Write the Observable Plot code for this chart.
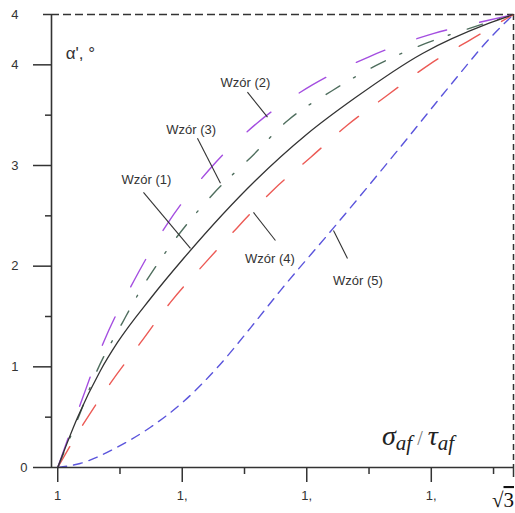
<!DOCTYPE html>
<html>
<head>
<meta charset="utf-8">
<script src="https://cdn.jsdelivr.net/npm/d3@7"></script>
<script src="https://cdn.jsdelivr.net/npm/@observablehq/plot@0.6"></script>
<style>
  html, body { margin: 0; padding: 0; background: #fff; overflow: hidden; }
</style>
</head>
<body>
<div id="chart"></div>
<script>
// ---- data ----
const SQRT3 = Math.sqrt(3);
// Wzór (1) – solid black
const wzor1 = [[1,0],[1.0318,0.497],[1.0687,0.964],[1.096,1.242],[1.149,1.679],[1.202,2.076],[1.3177,2.851],[1.3996,3.308],[1.4783,3.675],[1.5859,4.113],[1.6919,4.411],[SQRT3,4.5]];
// Wzór (2) – purple long dash
const wzor2 = [[1,0],[1.037,0.64],[1.074,1.25],[1.122,1.85],[1.176,2.42],[1.245,2.97],[1.32,3.42],[1.409,3.80],[1.50,4.08],[1.603,4.31],[1.69,4.44],[SQRT3,4.5]];
// Wzór (3) – grey-green dash-dot
const wzor3 = [[1,0],[1.032,0.48],[1.063,0.96],[1.104,1.44],[1.131,1.74],[1.16,2.02],[1.25,2.72],[1.31,3.08],[1.37,3.45],[1.44,3.74],[1.51,3.99],[1.59,4.21],[1.67,4.38],[SQRT3,4.5]];
// Wzór (4) – red dash
const wzor4 = [[1,0],[1.042,0.44],[1.085,0.84],[1.133,1.24],[1.181,1.64],[1.235,2.02],[1.288,2.38],[1.345,2.75],[1.406,3.08],[1.465,3.40],[1.53,3.70],[1.596,4.0],[1.666,4.26],[SQRT3,4.5]];
// Wzór (5) – blue short dash
const wzor5 = [[1,0],[1.036,0.04],[1.095,0.2],[1.149,0.40],[1.203,0.66],[1.256,0.99],[1.31,1.39],[1.358,1.76],[1.443,2.38],[1.546,3.15],[1.631,3.80],[1.695,4.27],[SQRT3,4.5]];

// axis ticks / labels
const xDomain = [0.99, SQRT3];
const yDomain = [0, 4.5];
const xMajorTicks = [1, 1.2, 1.4, 1.6];
const xMajorLabels = ["1", "1,", "1,", "1,"];
const xMinorTicks = [1.1, 1.3, 1.5, 1.7];
const yMajorTicks = [1, 2, 3, 4];
const yMajorLabels = ["1", "2", "3", "4"];
const yMinorTicks = [0.5, 1.5, 2.5, 3.5];
const yTopTick = [4.5];
const yTopLabel = ["4"];

// annotation labels
const labelText = ["Wzór (1)", "Wzór (2)", "Wzór (3)", "Wzór (4)", "Wzór (5)"];
const labelX = [1.1425, 1.3015, 1.2143, 1.3409, 1.4822];
const labelY = [2.853, 3.818, 3.350, 2.077, 1.858];
const leaderX1 = [1.1377, 1.3047, 1.2244, 1.3144, 1.4429];
const leaderY1 = [2.733, 3.728, 3.271, 2.534, 2.355];
const leaderX2 = [1.2132, 1.3369, 1.2614, 1.3497, 1.4654];
const leaderY2 = [2.176, 3.480, 2.823, 2.255, 2.077];

const labels = labelText.map((t, i) => ({t, x: labelX[i], y: labelY[i]}));
const leaders = labelText.map((t, i) => ({x1: leaderX1[i], y1: leaderY1[i], x2: leaderX2[i], y2: leaderY2[i]}));

const ink = "#333";
const lineOpts = (stroke, dash, w = 1.4) => ({x: d => d[0], y: d => d[1], stroke, strokeWidth: w, strokeDasharray: dash, curve: "monotone-x"});
const blank = () => "";

const chart = Plot.plot({
  width: 515,
  height: 513,
  marginLeft: 51,
  marginRight: 2,
  marginTop: 14,
  marginBottom: 46,
  style: {fontFamily: "'Liberation Sans', Arial, sans-serif", fontSize: "13px", color: ink, background: "#fff"},
  x: {domain: xDomain},
  y: {domain: yDomain},
  marks: [
    // frame
    Plot.ruleY([yDomain[1]], {stroke: ink, strokeWidth: 1.5, strokeDasharray: "8,4"}),
    Plot.ruleX([xDomain[1]], {stroke: ink, strokeWidth: 1.5, strokeDasharray: "6,4"}),
    // curves
    Plot.line(wzor5, lineOpts("#5b55dc", "9,7")),
    Plot.line(wzor4, lineOpts("#ec5a55", "24,25")),
    Plot.line(wzor3, lineOpts("#4f6e5e", "16,16,2,18")),
    Plot.line(wzor2, lineOpts("#a44ee0", "31,34")),
    Plot.line(wzor1, lineOpts("#333", null, 1.3)),
    // axes lines
    Plot.ruleX([xDomain[0]], {stroke: ink, strokeWidth: 1.6}),
    Plot.ruleY([yDomain[0]], {stroke: ink, strokeWidth: 1.6}),
    // x axis
    Plot.axisX(xMajorTicks, {tickSize: 15, tickPadding: 8, tickFormat: (d, i) => xMajorLabels[i], label: null, strokeWidth: 1.5, color: ink, fontSize: 13}),
    Plot.axisX(xMinorTicks, {tickSize: 7, tickFormat: blank, label: null, strokeWidth: 1.5, color: ink}),
    Plot.axisX([SQRT3], {tickSize: 10, tickFormat: blank, label: null, strokeWidth: 1.5, color: ink}),
    // y axis
    Plot.axisY(yMajorTicks, {tickSize: 18, tickPadding: 15, tickFormat: (d, i) => yMajorLabels[i], label: null, strokeWidth: 1.5, color: ink, fontSize: 13}),
    Plot.axisY([0], {tickSize: 18, tickPadding: 6, tickFormat: () => "0", label: null, strokeWidth: 1.5, color: ink, fontSize: 13}),
    Plot.axisY(yTopTick, {tickSize: 8, tickPadding: 25, tickFormat: (d, i) => yTopLabel[i], label: null, strokeWidth: 1.5, color: ink, fontSize: 13}),
    Plot.axisY(yMinorTicks, {tickSize: 6, tickFormat: blank, label: null, strokeWidth: 1.5, color: ink}),
    // annotations
    Plot.link(leaders, {x1: "x1", y1: "y1", x2: "x2", y2: "y2", stroke: ink, strokeWidth: 1.1}),
    Plot.text(labels, {x: "x", y: "y", text: "t", fill: ink, fontSize: 13, textAnchor: "middle", lineAnchor: "middle"}),
    Plot.text(["α', °"], {x: () => 1.0128, y: () => 4.116, text: d => d, textAnchor: "start", lineAnchor: "middle", fontSize: 17, fill: ink})
  ]
});

const sx = chart.scale("x"), sy = chart.scale("y");
const serif = "'Liberation Serif', 'DejaVu Serif', serif";

// σ_af / τ_af label with subscripts, positioned through the plot's scales
const t = d3.select(chart).append("text")
  .attr("x", sx.apply(1.5217))
  .attr("y", sy.apply(0.215))
  .attr("text-anchor", "start")
  .attr("font-family", serif)
  .attr("font-style", "italic")
  .attr("font-size", 28)
  .attr("fill", "#222");
t.append("tspan").text("σ");
t.append("tspan").attr("font-size", 21).attr("dy", 5).text("af");
t.append("tspan").attr("font-size", 20).attr("dy", -5).attr("font-style", "normal").attr("fill", "#777").text(" / ");
t.append("tspan").text("τ");
t.append("tspan").attr("font-size", 21).attr("dy", 5).text("af");

// √3 label at the last x tick
const r = d3.select(chart).append("text")
  .attr("x", sx.apply(SQRT3) + 1)
  .attr("y", sy.apply(0) + 40)
  .attr("text-anchor", "end")
  .attr("font-family", serif)
  .attr("font-size", 21)
  .attr("fill", "#111");
r.append("tspan").text("√");
r.append("tspan").attr("text-decoration", "overline").text("3");

document.getElementById("chart").appendChild(chart);
</script>
</body>
</html>
